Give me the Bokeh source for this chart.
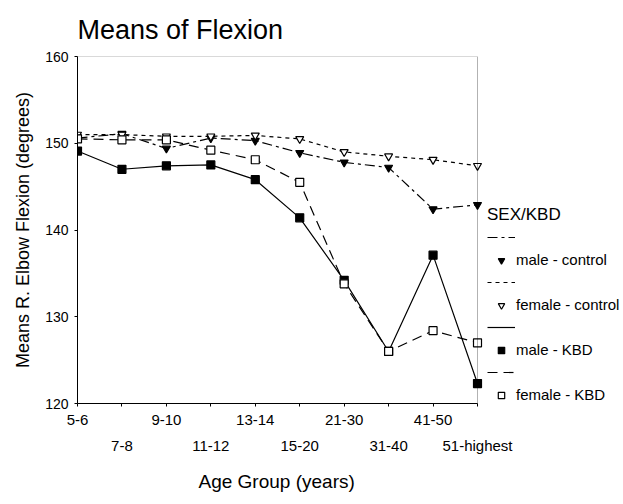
from bokeh.plotting import figure
from bokeh.models import (Range1d, LinearAxis, FixedTicker, Legend, LegendItem,
                          BoxAnnotation, Title)
from bokeh.embed import file_html
from bokeh.resources import INLINE

# ---------------- data ----------------
ages = ["5-6", "7-8", "9-10", "11-12", "13-14", "15-20", "21-30", "31-40", "41-50", "51-highest"]
male_control = [150.6, 151.1, 149.4, 150.6, 150.3, 148.9, 147.8, 147.2, 142.4, 142.9]
female_control = [151.0, 151.0, 150.8, 150.8, 150.9, 150.5, 149.0, 148.5, 148.1, 147.4]
male_kbd = [149.1, 147.0, 147.4, 147.5, 145.8, 141.4, 134.2, 126.0, 137.1, 122.3]
female_kbd = [150.5, 150.4, 150.4, 149.2, 148.1, 145.5, 133.8, 126.0, 128.4, 127.0]
y_ticks = [120, 130, 140, 150, 160]
series_names = ["male - control", "female - control", "male - KBD", "female - KBD"]

FONT = "Liberation Sans"
xs = list(range(len(ages)))
x_last = len(ages) - 1

# plot box is 400 px wide; the canvas area to its right (146 px) holds the legend
PLOT_W, LEGEND_W = 400, 146
p = figure(width=623, height=504, output_backend="svg", toolbar_location=None,
           x_range=Range1d(0, x_last * (PLOT_W + LEGEND_W) / PLOT_W),
           y_range=Range1d(y_ticks[0], y_ticks[-1]),
           min_border_left=77, min_border_right=0, min_border_top=56, min_border_bottom=95,
           x_axis_location=None, title="Means of Flexion")
p.grid.visible = False
p.outline_line_color = None
p.title.text_font = FONT
p.title.text_font_size = "27px"
p.title.text_font_style = "normal"
p.title.text_color = "black"
p.title.align = "left"
p.title.standoff = 23

# the box of the plot area
p.add_layout(BoxAnnotation(left=0, right=x_last, bottom=y_ticks[0], top=y_ticks[-1],
                           fill_alpha=0, line_color="black", line_width=1))

ya = p.yaxis[0]
ya.ticker = FixedTicker(ticks=y_ticks)
ya.major_tick_out = 3
ya.major_tick_in = 0
ya.minor_tick_line_color = None
ya.major_label_text_font = FONT
ya.major_label_text_font_size = "14px"
ya.major_label_text_color = "black"
ya.major_label_standoff = 6
ya.axis_line_color = "black"
ya.major_tick_line_color = "black"

# y title
p.add_layout(Title(text="Means R. Elbow Flexion (degrees)", align="center",
                   standoff=19, text_font=FONT, text_font_size="18px",
                   text_font_style="normal", text_color="black"), "left")

xa1 = LinearAxis(ticker=FixedTicker(ticks=xs), bounds=(0, x_last),
                 major_label_overrides={i: (ages[i] if i % 2 == 0 else " ") for i in xs})
xa1.major_tick_out = 3
xa1.major_tick_in = 0
xa1.minor_tick_line_color = None
xa1.major_label_text_font = FONT
xa1.major_label_text_font_size = "15px"
xa1.major_label_text_color = "black"
xa1.major_label_standoff = 4
p.add_layout(xa1, "below")

odd = [i for i in xs if i % 2 == 1]
xa2 = LinearAxis(ticker=FixedTicker(ticks=odd), bounds=(0, x_last),
                 major_label_overrides={i: ages[i] for i in odd})
xa2.axis_line_color = None
xa2.major_tick_line_color = None
xa2.minor_tick_line_color = None
xa2.major_tick_out = 0
xa2.major_label_text_font = FONT
xa2.major_label_text_font_size = "15px"
xa2.major_label_text_color = "black"
xa2.major_label_standoff = 6
p.add_layout(xa2, "below")

# x title centred under the plot box (not under the whole canvas)
p.add_layout(Title(text="Age Group (years)", align="left", offset=121, standoff=25,
                   text_font=FONT, text_font_size="19px", text_font_style="normal",
                   text_color="black"), "below")

styles = [
    (male_control, "10 4 3 4", "inverted_triangle", "black"),
    (female_control, "4 4", "inverted_triangle", "white"),
    (male_kbd, "solid", "square", "black"),
    (female_kbd, "10 6", "square", "white"),
]
line_rs = []
for ys, dash, mk, fill in styles:
    line_rs.append(p.line(xs, ys, line_color="black", line_width=1.2, line_dash=dash))
mark_rs = []
for ys, dash, mk, fill in styles:
    mark_rs.append(p.scatter(xs, ys, marker=mk, size=8, line_color="black", line_width=1.2,
                             fill_color=fill))

items = []
for k in range(len(styles)):
    items.append(LegendItem(label=" ", renderers=[line_rs[k]]))
    items.append(LegendItem(label=series_names[k], renderers=[mark_rs[k]]))

legend = Legend(items=items, location=(PLOT_W + 10, 0), title="SEX/KBD")
legend.title_text_font = FONT
legend.title_text_font_size = "17px"
legend.title_text_font_style = "normal"
legend.title_text_color = "black"
legend.title_standoff = 4
legend.label_text_font = FONT
legend.label_text_font_size = "15px"
legend.label_text_color = "black"
legend.glyph_width = 28
legend.glyph_height = 16
legend.label_standoff = 1
legend.spacing = 6
legend.padding = 4
legend.margin = 0
legend.border_line_color = None
legend.background_fill_alpha = 0
p.add_layout(legend)

open("out.html", "w").write(file_html(p, INLINE))
